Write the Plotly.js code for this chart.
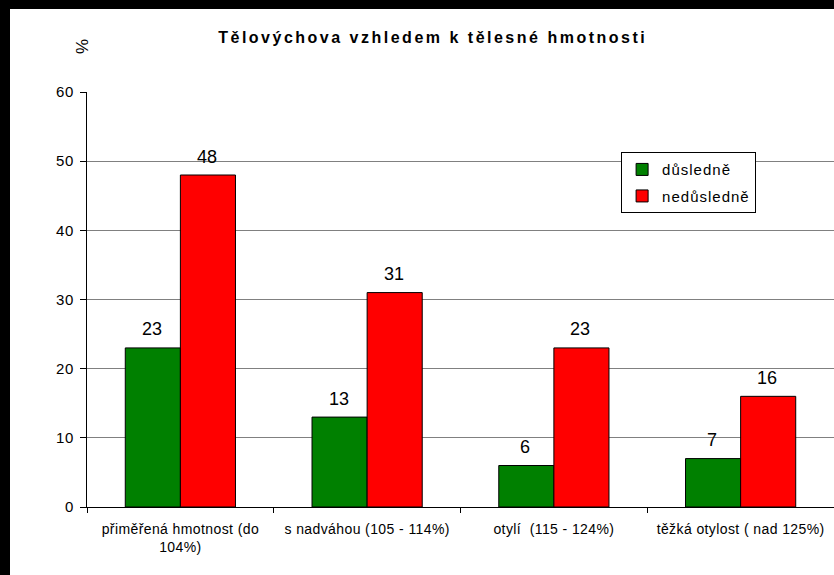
<!DOCTYPE html>
<html>
<head>
<meta charset="utf-8">
<script src="https://cdn.plot.ly/plotly-3.0.1.min.js"></script>
<style>
  html, body { margin:0; padding:0; background:#fff; width:834px; height:575px; overflow:hidden; }
  #topbar { position:absolute; left:0; top:0; width:834px; height:9px; background:#000; }
  #leftbar { position:absolute; left:0; top:0; width:10px; height:575px; background:#000; }
  #chart { position:absolute; left:10px; top:9px; width:824px; height:566px; }
  .gtitle { letter-spacing: 2.5px; }
  .xtick text { letter-spacing: 0.4px; }
  .ytick text { letter-spacing: 0.6px; }
  .legendtext { letter-spacing: 1px; }
</style>
</head>
<body>
<div id="topbar"></div>
<div id="leftbar"></div>
<div id="chart"></div>
<script>
const categories = ["přiměřená hmotnost (do<br>104%)", "s nadváhou (105 - 114%)", "otylí  (115 - 124%)", "těžká otylost ( nad 125%)"];
const seriesNames = ["důsledně", "nedůsledně"];
const dusledne = [23, 13, 6, 7];
const nedusledne = [48, 31, 23, 16];
const colors = ["#008000", "#FF0000"];

const values = [dusledne, nedusledne];
const font = "Liberation Sans, Arial, sans-serif";

const traces = values.map((v, i) => ({
  type: "bar",
  name: seriesNames[i],
  legendgroup: "g" + i,
  x: categories,
  y: v,
  marker: { color: colors[i], line: { color: "#000", width: 1 } },
  hoverinfo: "skip"
}));

const annotations = [];
values.forEach((v, i) => {
  v.forEach((val, j) => {
    annotations.push({
      x: categories[j], y: val, xref: "x", yref: "y",
      text: String(val), showarrow: false,
      xanchor: "center", yanchor: "middle",
      xshift: (i === 0 ? -28.5 : 26.5), yshift: 18.5,
      font: { family: font, size: 18, color: "#000" }
    });
  });
});
annotations.push({
  xref: "paper", yref: "paper", x: -0.0054, y: 1.111,
  text: "%", textangle: -90, showarrow: false,
  xanchor: "center", yanchor: "middle",
  font: { family: font, size: 17, color: "#000" }
});

const layout = {
  width: 824, height: 566,
  paper_bgcolor: "#fff", plot_bgcolor: "#fff",
  margin: { l: 77, r: 0, t: 83, b: 68 },
  font: { family: font, color: "#000" },
  title: {
    text: "<b>Tělovýchova vzhledem k tělesné hmotnosti</b>",
    xref: "container", x: 0.513, xanchor: "center",
    yref: "container", y: 0.949, yanchor: "middle",
    font: { family: font, size: 16, color: "#000" }
  },
  barmode: "group",
  bargap: 0.41,
  bargroupgap: 0,
  xaxis: {
    type: "category",
    showline: true, linecolor: "#000", linewidth: 1,
    ticks: "outside", tickson: "boundaries", ticklen: 5, tickcolor: "#000",
    ticklabelstandoff: 9,
    tickfont: { family: font, size: 14, color: "#000" },
    showgrid: false, fixedrange: true
  },
  yaxis: {
    range: [0, 60], dtick: 10, tick0: 0,
    showline: true, linecolor: "#000", linewidth: 1,
    ticks: "outside", ticklen: 6, tickcolor: "#000",
    ticklabelstandoff: 3,
    tickfont: { family: font, size: 15, color: "#000" },
    showgrid: true, gridcolor: "#808080", gridwidth: 1,
    zeroline: false, fixedrange: true
  },
  legend: {
    x: 0.715, y: 0.855, xanchor: "left", yanchor: "top",
    bgcolor: "#fff", bordercolor: "#000", borderwidth: 1,
    font: { family: font, size: 15, color: "#000" },
    traceorder: "grouped", tracegroupgap: 4
  },
  annotations: annotations,
  showlegend: true
};

Plotly.newPlot("chart", traces, layout, { displayModeBar: false, staticPlot: true });
</script>
</body>
</html>
